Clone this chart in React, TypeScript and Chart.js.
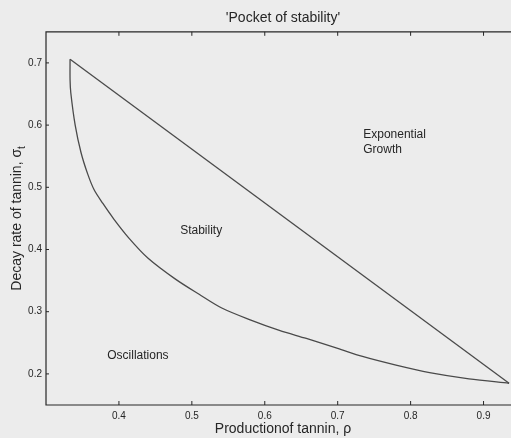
import React, { useEffect, useRef } from "react";
import { Chart, registerables } from "chart.js";

Chart.register(...registerables);

// Boundary between the stable and oscillating regimes (rho, sigma_t)
const curveRho = [0.333, 0.333, 0.334, 0.34, 0.348, 0.357, 0.366, 0.378, 0.393, 0.414, 0.44, 0.478, 0.51, 0.541, 0.58, 0.62, 0.657, 0.7, 0.734, 0.78, 0.826, 0.88, 0.935];
const curveSigma = [0.706, 0.673, 0.652, 0.6, 0.556, 0.522, 0.496, 0.474, 0.449, 0.418, 0.386, 0.352, 0.328, 0.306, 0.287, 0.27, 0.257, 0.241, 0.228, 0.214, 0.202, 0.192, 0.185];

// Boundary between stability and exponential growth
const lineRho = [0.333, 0.935];
const lineSigma = [0.706, 0.185];

const xTickValues = [0.4, 0.5, 0.6, 0.7, 0.8, 0.9];
const yTickValues = [0.2, 0.3, 0.4, 0.5, 0.6, 0.7];

// Region names, anchored at (rho, sigma_t) for the left edge of the first line
const regionText = [["Exponential", "Growth"], ["Stability"], ["Oscillations"]];
const regionRho = [0.735, 0.484, 0.384];
const regionSigma = [0.584, 0.431, 0.229];

const FONT = "'Liberation Sans', Arial, Helvetica, sans-serif";
const BG = "#ececec";
const INK = "#262626";

const background = {
  id: "background",
  beforeDraw(chart: any) {
    const { ctx, width, height } = chart;
    ctx.save();
    ctx.fillStyle = BG;
    ctx.fillRect(0, 0, width, height);
    ctx.restore();
  },
};

const frame = {
  id: "frame",
  afterDraw(chart: any) {
    const { ctx, chartArea } = chart;
    const { left, right, top, bottom } = chartArea;
    const x = chart.scales.x;
    const y = chart.scales.y;
    ctx.save();
    ctx.strokeStyle = INK;
    ctx.lineWidth = 1.2;
    ctx.beginPath();
    ctx.moveTo(left, top);
    ctx.lineTo(right, top);
    ctx.lineTo(right, bottom);
    ctx.lineTo(left, bottom);
    ctx.closePath();
    ctx.stroke();

    ctx.lineWidth = 1;
    ctx.beginPath();
    xTickValues.forEach((v) => {
      const px = x.getPixelForValue(v);
      ctx.moveTo(px, bottom);
      ctx.lineTo(px, bottom - 4);
      ctx.moveTo(px, top);
      ctx.lineTo(px, top + 4);
    });
    yTickValues.forEach((v) => {
      const py = y.getPixelForValue(v);
      ctx.moveTo(left, py);
      ctx.lineTo(left + 3, py);
      ctx.moveTo(right, py);
      ctx.lineTo(right - 3, py);
    });
    ctx.stroke();

    // y-axis title with subscript
    const main = "Decay rate of tannin, \u03c3";
    const sub = "t";
    ctx.fillStyle = INK;
    ctx.font = `14px ${FONT}`;
    const wMain = ctx.measureText(main).width;
    ctx.font = `10px ${FONT}`;
    const wSub = ctx.measureText(sub).width;
    const total = wMain + wSub;
    const cy = (top + bottom) / 2;
    ctx.translate(21, cy);
    ctx.rotate(-Math.PI / 2);
    ctx.textBaseline = "alphabetic";
    ctx.textAlign = "left";
    ctx.font = `14px ${FONT}`;
    ctx.fillText(main, -total / 2, 0);
    ctx.font = `10px ${FONT}`;
    ctx.fillText(sub, -total / 2 + wMain, 4);
    ctx.restore();

    // region names
    ctx.save();
    ctx.fillStyle = INK;
    ctx.font = `12px ${FONT}`;
    ctx.textAlign = "left";
    ctx.textBaseline = "middle";
    regionText.forEach((lines, i) => {
      const px = x.getPixelForValue(regionRho[i]);
      const py = y.getPixelForValue(regionSigma[i]);
      lines.forEach((t, j) => ctx.fillText(t, px, py + j * 15));
    });
    ctx.restore();
  },
};

export default function App() {
  const ref = useRef<HTMLCanvasElement | null>(null);

  useEffect(() => {
    if (!ref.current) return;
    const chart = new Chart(ref.current, {
      type: "scatter",
      data: {
        datasets: [
          {
            data: curveRho.map((r, i) => ({ x: r, y: curveSigma[i] })),
            showLine: true,
            borderColor: "#4a4a4a",
            borderWidth: 1.3,
            pointRadius: 0,
            tension: 0.3,
            fill: false,
          },
          {
            data: lineRho.map((r, i) => ({ x: r, y: lineSigma[i] })),
            showLine: true,
            borderColor: "#4a4a4a",
            borderWidth: 1.3,
            pointRadius: 0,
            fill: false,
          },
        ],
      },
      options: {
        responsive: false,
        animation: false,
        events: [],
        layout: { padding: { left: 0, right: 2, top: 0, bottom: 0 } },
        plugins: {
          legend: { display: false },
          tooltip: { enabled: false },
          title: {
            display: true,
            text: "'Pocket of stability'",
            fullSize: false,
            color: INK,
            font: { family: FONT, size: 14, weight: "normal" },
            padding: { top: 10, bottom: 5 },
          },
        },
        scales: {
          x: {
            type: "linear",
            min: 0.3,
            max: 0.95,
            grid: { display: false, drawTicks: false },
            border: { display: false },
            afterBuildTicks: (s: any) => {
              s.ticks = xTickValues.map((v) => ({ value: v }));
            },
            afterFit: (s: any) => {
              s.height = 33;
            },
            ticks: {
              padding: 5,
              color: INK,
              font: { family: FONT, size: 10 },
              callback: (v: any) => Number(v).toFixed(1),
            },
            title: {
              display: true,
              text: "Productionof tannin, \u03c1",
              color: INK,
              font: { family: FONT, size: 14 },
              padding: { top: 0, bottom: 0 },
            },
          },
          y: {
            type: "linear",
            min: 0.15,
            max: 0.75,
            grid: { display: false, drawTicks: false },
            border: { display: false },
            afterBuildTicks: (s: any) => {
              s.ticks = yTickValues.map((v) => ({ value: v }));
            },
            afterFit: (s: any) => {
              s.width = 46;
            },
            ticks: {
              padding: 4,
              color: INK,
              font: { family: FONT, size: 10 },
              callback: (v: any) => Number(v).toFixed(1),
            },
          },
        },
      } as any,
      plugins: [background, frame],
    });
    return () => chart.destroy();
  }, []);

  return (
    <div
      style={{
        position: "fixed",
        left: 0,
        top: 0,
        width: 511,
        height: 438,
        overflow: "hidden",
        background: BG,
      }}
    >
      <canvas ref={ref} width={522} height={438} style={{ display: "block", width: 522, height: 438 }} />
    </div>
  );
}
